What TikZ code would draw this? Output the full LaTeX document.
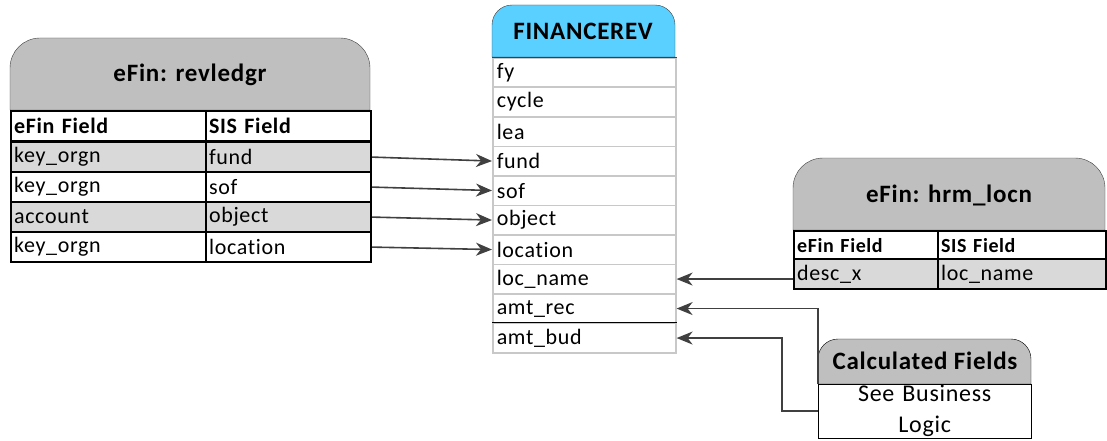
\documentclass[tikz,border=0pt]{standalone}
\usepackage{fontspec}
\setmainfont{Carlito}[LetterSpace=3, Ligatures=NoCommon]
\usetikzlibrary{arrows.meta}

\definecolor{hdrgray}{RGB}{191,191,191}
\definecolor{rowgray}{RGB}{217,217,217}
\definecolor{finblue}{RGB}{89,208,255}
\definecolor{rulegray}{RGB}{200,200,200}
\definecolor{linkgray}{RGB}{64,64,64}

\tikzset{
    tcell/.style={draw=black, line width=2.2pt, anchor=north west, inner xsep=3pt, inner ysep=0pt,
        minimum height=30pt, text width=#1, align=left, font=\fontsize{22}{26}\selectfont},
    fcell/.style={draw=rulegray, line width=1.6pt, anchor=north west, inner xsep=4pt, inner ysep=0pt,
        minimum height=29.5pt, text width=175pt, align=left, font=\fontsize{22}{26}\selectfont},
    title/.style={font=\fontsize{25}{30}\selectfont\bfseries},
    link/.style={draw=linkgray, line width=1.6pt, -{Stealth[length=16pt,width=13pt,inset=5pt]}}
}

\begin{document}
\begin{tikzpicture}[x=1pt, y=-1pt]
    \useasboundingbox (0,0) rectangle (1107,441);

    % eFin: revledgr
    \filldraw[fill=hdrgray, draw=linkgray, thin] (10,110) [rounded corners=30] -- (10,38) -- (370,38) [sharp corners] -- (370,110) -- cycle;
    \node[title] (rvtitle) at (190,75) {eFin: revledgr};
    \node[tcell=189pt, font=\fontsize{22}{26}\selectfont\bfseries] (rve0) at (10,110) {eFin Field};
    \node[tcell=159pt, font=\fontsize{22}{26}\selectfont\bfseries] (rvs0) at (205,110) {SIS Field};
    \node[tcell=189pt, fill=rowgray] (rve1) at (10,141) {key\_orgn};
    \node[tcell=159pt, fill=rowgray] (rvs1) at (205,141) {fund};
    \node[tcell=189pt] (rve2) at (10,171) {key\_orgn};
    \node[tcell=159pt] (rvs2) at (205,171) {sof};
    \node[tcell=189pt, fill=rowgray] (rve3) at (10,201) {account};
    \node[tcell=159pt, fill=rowgray] (rvs3) at (205,201) {object};
    \node[tcell=189pt] (rve4) at (10,231) {key\_orgn};
    \node[tcell=159pt] (rvs4) at (205,231) {location};

    % FINANCEREV
    \filldraw[fill=finblue, draw=linkgray, thin] (492,57) [rounded corners=20] -- (492,5) -- (675,5) [sharp corners] -- (675,57) -- cycle;
    \node[title] (fintitle) at (583,31) {FINANCEREV};
    \node[fcell] (fy) at (492,57) {fy};
    \node[fcell] (cycle) at (492,86.5) {cycle};
    \node[fcell] (lea) at (492,116) {lea};
    \node[fcell] (fund) at (492,145.5) {fund};
    \node[fcell] (sof) at (492,175) {sof};
    \node[fcell] (object) at (492,204.5) {object};
    \node[fcell] (location) at (492,234) {location};
    \node[fcell] (locname) at (492,263.5) {loc\_name};
    \node[fcell] (amtrec) at (492,293) {amt\_rec};
    \node[fcell] (amtbud) at (492,322.5) {amt\_bud};
    \draw[linkgray, thin] (fy.north west) -- (fy.north east);
    \draw[black, thin] (amtbud.north west) -- (amtbud.north east);

    % eFin: hrm_locn
    \filldraw[fill=hdrgray, draw=linkgray, thin] (793,230) [rounded corners=30] -- (793,158) -- (1105,158) [sharp corners] -- (1105,230) -- cycle;
    \node[title] (hltitle) at (949,195) {eFin: hrm\_locn};
    \node[tcell=138pt, minimum height=28pt, font=\fontsize{20}{24}\selectfont\bfseries] (hle0) at (793,230) {eFin Field};
    \node[tcell=162pt, minimum height=28pt, font=\fontsize{20}{24}\selectfont\bfseries] (hls0) at (937,230) {SIS Field};
    \node[tcell=138pt, fill=rowgray] (hle1) at (793,258) {desc\_x};
    \node[tcell=162pt, fill=rowgray] (hls1) at (937,258) {loc\_name};

    % Calculated Fields
    \filldraw[fill=hdrgray, draw=black, thin] (818,384) [rounded corners=20] -- (818,339) -- (1031,339) [sharp corners] -- (1031,384) -- cycle;
    \node[title] (calctitle) at (925,361) {Calculated Fields};
    \node[draw=black, thin, anchor=north west, minimum width=213pt, minimum height=54pt, inner sep=0pt,
        text width=213pt, align=center, font=\fontsize{24}{31}\selectfont] (calc) at (818,384) {See Business\\Logic};

    % links
    \draw[link] (rvs1.east) -- (fund.west);
    \draw[link] (rvs2.east) -- (sof.west);
    \draw[link] (rvs3.east) -- (object.west);
    \draw[link] (rvs4.east) -- (location.west);
    \draw[link] (hle1.west |- locname.east) -- (locname.east);
    \draw[link] (calc.north west) |- (amtrec.east);
    \draw[link] (calc.west) -- ++(-36,0) |- (amtbud.east);
\end{tikzpicture}
\end{document}
